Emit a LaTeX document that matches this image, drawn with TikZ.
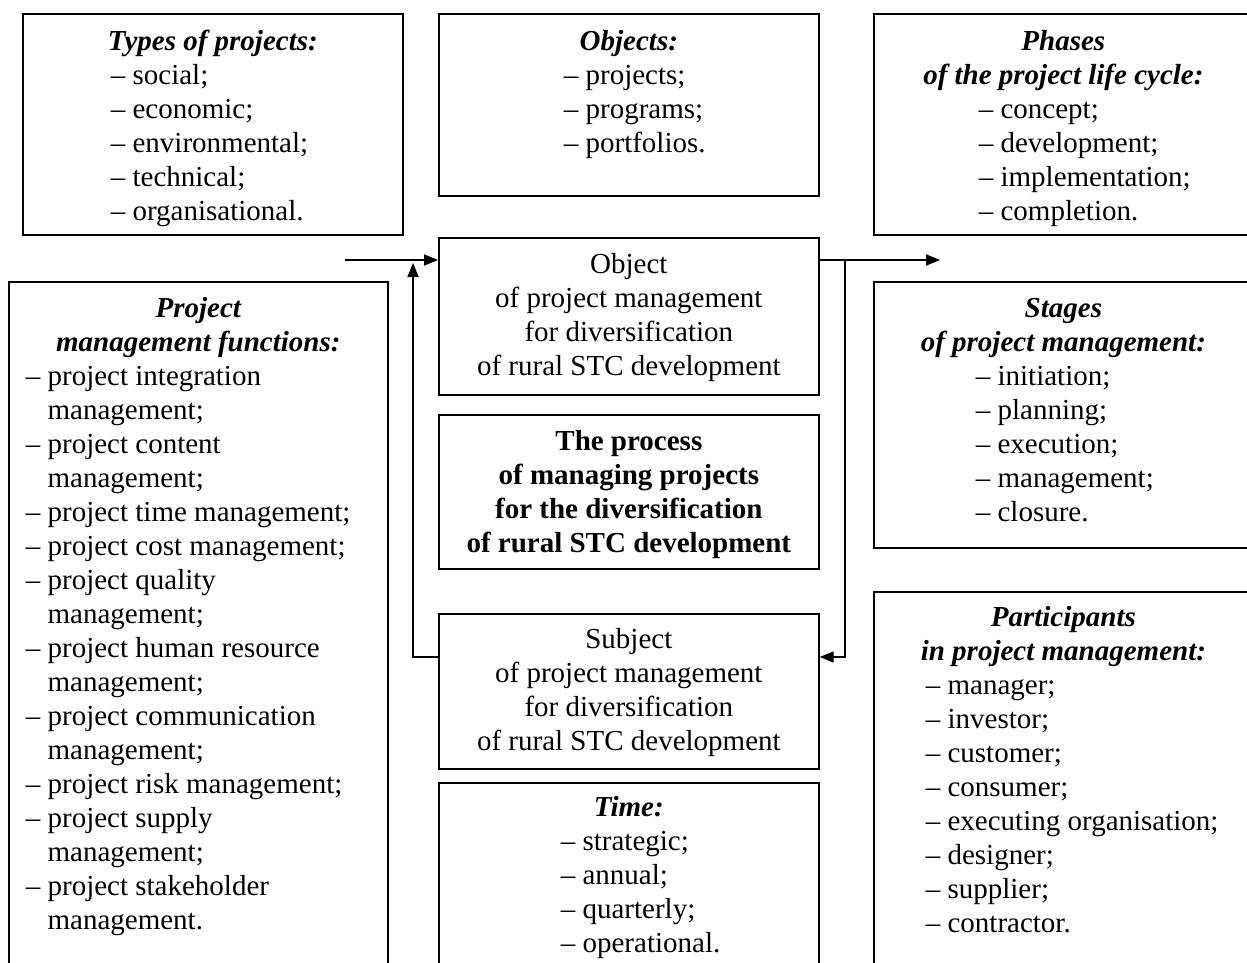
\documentclass[tikz,border=0pt]{standalone}
\usepackage{fontspec}
\setmainfont{Liberation Serif}
\usetikzlibrary{arrows.meta}

\newlength\dashw
\newcommand{\bodyfont}{\fontsize{29}{34}\selectfont}
% box body: width, height, content (top aligned)
\newcommand{\panel}[3]{\parbox[t][#2][t]{#1}{\bodyfont\parindent=0pt\parskip=0pt\settowidth{\dashw}{– }#3}}
% centred bold-italic heading; #1 = depth of first baseline below the box top
\newcommand{\heading}[2]{{\centering\rule{0pt}{#1}\bfseries\itshape #2\par}}
% centred plain lines
\newcommand{\plainlines}[2]{{\centering\rule{0pt}{#1}#2\par}}
% centred bold lines
\newcommand{\boldlines}[2]{{\centering\rule{0pt}{#1}\bfseries #2\par}}
% list block with left offset
\newcommand{\listed}[2]{{\raggedright\leftskip=#1\relax #2\par}}
% hanging list item (function list): continuation lines indented past the dash
\newcommand{\fitem}[1]{{\raggedright\let\\\newline\leftskip=\dimexpr17pt+\dashw\relax\parindent=-\dashw – #1\par}}

\tikzset{
  panelbox/.style={draw, line width=1.7pt, rectangle, inner sep=0pt, anchor=north west},
  arr/.style={line width=1.7pt, -{Triangle[length=14pt,width=11pt]}},
}

\begin{document}
\begin{tikzpicture}[x=1pt,y=-1pt]
\useasboundingbox (0,0) rectangle (1247,963);
\fill[white] (0,0) rectangle (1247,963);
\clip (0,0) rectangle (1247,963);

% top row
\node[panelbox] (types) at (22,13) {\panel{380pt}{221pt}{%
  \heading{37pt}{Types of projects:}%
  \listed{88pt}{– social;\\– economic;\\– environmental;\\– technical;\\– organisational.}}};

\node[panelbox] (objects) at (438,13) {\panel{380pt}{182pt}{%
  \heading{37pt}{Objects:}%
  \listed{125pt}{– projects;\\– programs;\\– portfolios.}}};

\node[panelbox] (phases) at (873,13) {\panel{379pt}{221pt}{%
  \heading{37pt}{Phases\\of the project life cycle:}%
  \listed{105pt}{– concept;\\– development;\\– implementation;\\– completion.}}};

% centre column
\node[panelbox] (obj) at (438,237) {\panel{380pt}{157pt}{%
  \plainlines{36pt}{Object\\of project management\\for diversification\\of rural STC development}}};

\node[panelbox] (proc) at (438,414) {\panel{380pt}{154pt}{%
  \boldlines{36pt}{The process\\of managing projects\\for the diversification\\of rural STC development}}};

\node[panelbox] (subj) at (438,613) {\panel{380pt}{155pt}{%
  \plainlines{35pt}{Subject\\of project management\\for diversification\\of rural STC development}}};

\node[panelbox] (time) at (438,782) {\panel{380pt}{200pt}{%
  \heading{34pt}{Time:}%
  \listed{122pt}{– strategic;\\– annual;\\– quarterly;\\– operational.}}};

% left column
\node[panelbox] (funcs) at (8,281) {\panel{379pt}{700pt}{%
  \heading{36pt}{Project\\management functions:}%
  \fitem{project integration\\management;}%
  \fitem{project content\\management;}%
  \fitem{project time management;}%
  \fitem{project cost management;}%
  \fitem{project quality\\management;}%
  \fitem{project human resource\\management;}%
  \fitem{project communication\\management;}%
  \fitem{project risk management;}%
  \fitem{project supply\\management;}%
  \fitem{project stakeholder\\management.}}};

% right column
\node[panelbox] (stages) at (873,281) {\panel{379pt}{266pt}{%
  \heading{36pt}{Stages\\of project management:}%
  \listed{102pt}{– initiation;\\– planning;\\– execution;\\– management;\\– closure.}}};

\node[panelbox] (parts) at (873,591) {\panel{379pt}{390pt}{%
  \heading{35pt}{Participants\\in project management:}%
  \listed{52pt}{– manager;\\– investor;\\– customer;\\– consumer;\\– executing organisation;\\– designer;\\– supplier;\\– contractor.}}};

% connectors
\coordinate (inL) at (345,260);
\coordinate (outR) at (940,260);
\coordinate (fbL) at (413,657);
\coordinate (upTip) at (413,263);
\coordinate (fbR) at (845,657);

\draw[arr] (inL) -- (inL -| obj.west);
\draw[arr] (subj.west |- fbL) -- (fbL) -- (upTip);
\draw[arr] (obj.east |- outR) -- (outR);
\draw[arr] (fbR |- outR) -- (fbR) -- (subj.east |- fbR);
\end{tikzpicture}
\end{document}
